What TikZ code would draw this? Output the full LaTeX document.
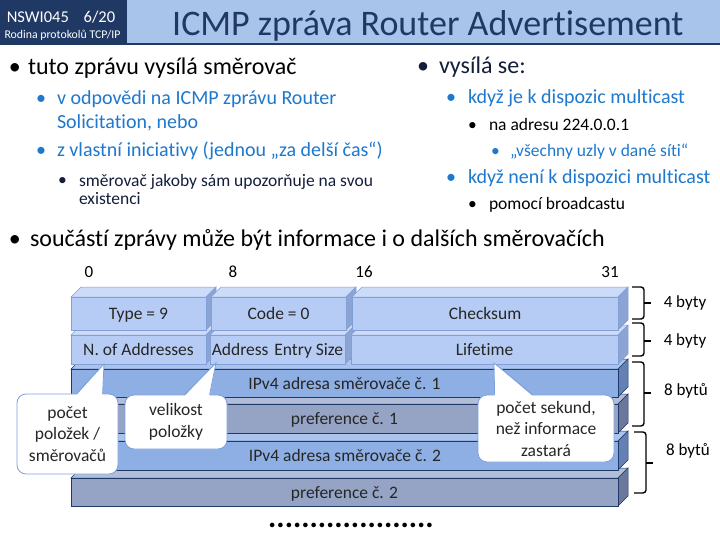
\documentclass[tikz,border=0pt]{standalone}
\usepackage{fontspec}
\setmainfont{Carlito}[Ligatures=NoCommon]
\usetikzlibrary{calc}
\definecolor{navy}{RGB}{31,56,100}
\definecolor{hdr}{RGB}{169,196,235}
\definecolor{txtblue}{RGB}{30,120,205}
\definecolor{txtdark}{RGB}{20,30,60}
\definecolor{lfront}{RGB}{183,204,244}
\definecolor{ltop}{RGB}{204,219,248}
\definecolor{lside}{RGB}{140,164,212}
\definecolor{lborder}{RGB}{130,160,215}
\definecolor{ifront}{RGB}{142,175,228}
\definecolor{itop}{RGB}{170,196,238}
\definecolor{iside}{RGB}{100,128,180}
\definecolor{iborder}{RGB}{31,58,104}
\definecolor{pfront}{RGB}{149,163,196}
\definecolor{ptop}{RGB}{178,190,216}
\definecolor{pside}{RGB}{108,120,155}
\definecolor{pborder}{RGB}{31,58,104}
\definecolor{callb}{RGB}{125,160,220}
\tikzset{
  txt/.style={inner sep=0pt, outer sep=0pt, anchor=base west},
  lvla/.style={txt, font=\fontsize{24}{28}\selectfont, text=black},
  lvlb/.style={txt, font=\fontsize{20}{24}\selectfont, text=txtblue, align=left},
  lvlc/.style={txt, font=\fontsize{17.5}{18.5}\selectfont, text=black, align=left},
  fieldtxt/.style={font=\fontsize{17.5}{18}\selectfont, text=black!85, text height=12.4pt, text depth=0.4pt},
  bitnum/.style={inner sep=0pt, font=\fontsize{17}{18}\selectfont, text=black},
  callout/.style={draw=callb, fill=white, rounded corners=9pt, line width=0.8pt, align=center, inner sep=0pt,
     font=\fontsize{17.5}{21.5}\selectfont, text=black!85},
  bracepath/.style={line width=1.4pt, rounded corners=3pt},
  bracetxt/.style={inner sep=0pt, font=\fontsize{17}{18}\selectfont, text=black},
}
\newcommand\fieldbox[7]{%
  \fill[#6top, draw=#6border, line width=0.5pt] (#2,#3) -- (#2+10,#3-10) -- (#4+10,#3-10) -- (#4,#3) -- cycle;
  \fill[#6side, draw=#6border, line width=0.5pt] (#4,#3) -- (#4+10,#3-10) -- (#4+10,#5-10) -- (#4,#5) -- cycle;
  \node[draw=#6border, fill=#6front, line width=0.8pt, inner sep=0pt, outer sep=0pt,
        minimum width={(#4-#2)*1pt}, minimum height={(#5-#3)*1pt}, fieldtxt]
        (#1) at ({(#2+#4)/2},{(#3+#5)/2}) {#7};%
}
\begin{document}
\begin{tikzpicture}[x=1pt,y=-1pt]
\useasboundingbox (0,0) rectangle (720,540);
\fill[white] (0,0) rectangle (720,540);
% header
\fill[hdr] (0,0) rectangle (720,45);
\fill[navy] (0,0) rectangle (127,45);
\draw[navy, line width=1.6pt] (0,44) -- (720,44);
\node[inner sep=0pt, text=white, font=\fontsize{16.5}{18}\selectfont] (course) at (61,17) {NSWI045\hspace{0.9em}6/20};
\node[inner sep=0pt, text=white, font=\fontsize{11.8}{13}\selectfont] (topic) at (62.5,35) {Rodina protokolů TCP/IP};
\node[inner sep=0pt, text=navy, font=\fontsize{36}{40}\selectfont, anchor=base west] (title) at (172,36) {ICMP zpráva Router Advertisement};

% left bullets
\node[lvla] (b1) at (9,75) {•};
\node[lvla] (t1) at (28,75) {tuto zprávu vysílá směrovač};
\node[lvlb] (b2) at (36,105) {•};
\node[lvlb] (t2) at (57,129) {v odpovědi na ICMP zprávu Router\\Solicitation, nebo};
\node[lvlb] (b3) at (36,157) {•};
\node[lvlb] (t3) at (57,157) {z vlastní iniciativy (jednou „za delší čas“)};
\node[lvlc, text=txtdark] (b4) at (58,186) {•};
\node[lvlc, text=txtdark] (t4) at (79,205) {směrovač jakoby sám upozorňuje na svou\\existenci};

% right bullets
\node[lvla, text=txtdark] (r1b) at (417,74) {•};
\node[lvla, text=txtdark] (r1) at (439,74) {vysílá se:};
\node[lvlb] (r2b) at (446,104) {•};
\node[lvlb] (r2) at (468,104) {když je k dispozic multicast};
\node[lvlc] (r3b) at (468,131) {•};
\node[lvlc] (r3) at (489,131) {na adresu 224.0.0.1};
\node[lvlc, text=txtblue] (r4b) at (491,157) {•};
\node[lvlc, text=txtblue] (r4) at (510,157) {„všechny uzly v dané síti“};
\node[lvlb] (r5b) at (446,184) {•};
\node[lvlb] (r5) at (468,184) {když není k dispozici multicast};
\node[lvlc] (r6b) at (468,210) {•};
\node[lvlc] (r6) at (489,210) {pomocí broadcastu};

% wide bullet
\node[lvla] (w1b) at (9,246) {•};
\node[lvla] (w1) at (30,246) {součástí zprávy může být informace i o dalších směrovačích};

% bit numbers
\node[bitnum] (n0) at (89,272) {0};
\node[bitnum] (n8) at (233,272) {8};
\node[bitnum] (n16) at (364,272) {16};
\node[bitnum] (n31) at (610,272) {31};

% fields, back to front
\fieldbox{pref2}{71}{478}{618}{506}{p}{preference č. 2}
\fieldbox{ip2}{72}{441}{618}{470}{i}{IPv4 adresa směrovače č. 2}
\fieldbox{pref1}{71}{404}{618}{433}{p}{preference č. 1}
\fieldbox{ip1}{71}{369}{618}{397}{i}{IPv4 adresa směrovače č. 1}
\fieldbox{naddr}{71}{335}{206}{364}{l}{N. of Addresses}
\fieldbox{esize}{210}{335}{345}{364}{l}{Address\,\,Entry Size}
\fieldbox{life}{351}{335}{618}{364}{l}{Lifetime}
\fieldbox{type}{71}{297}{206}{330}{l}{Type = 9}
\fieldbox{code}{211}{297}{346}{330}{l}{Code = 0}
\fieldbox{csum}{352}{297}{618}{330}{l}{Checksum}

% callouts
\node[callout, minimum width=101pt, minimum height=80pt] (c1) at (67.5,434) {počet\\položek /\\směrovačů};
\node[callout, minimum width=102pt, minimum height=54pt] (c2) at (176,422) {velikost\\položky};
\node[callout, minimum width=136pt, minimum height=67pt] (c3) at (546,428.5) {počet sekund,\\než informace\\zastará};
\coordinate (p1) at (104,364);
\coordinate (p2) at (216,363);
\coordinate (p3) at (494,363);
\fill[white] ($(c1.north west)+(60,1.5)$) -- (p1) -- ($(c1.north west)+(86,1.5)$) -- cycle;
\draw[callb, line width=0.8pt] ($(c1.north west)+(60,0)$) -- (p1) -- ($(c1.north west)+(86,0)$);
\fill[white] ($(c2.north west)+(60,1.5)$) -- (p2) -- ($(c2.north west)+(85,1.5)$) -- cycle;
\draw[callb, line width=0.8pt] ($(c2.north west)+(60,0)$) -- (p2) -- ($(c2.north west)+(85,0)$);
\fill[white] ($(c3.north west)+(17,1.5)$) -- (p3) -- ($(c3.north west)+(55,1.5)$) -- cycle;
\draw[callb, line width=0.8pt] ($(c3.north west)+(17,0)$) -- (p3) -- ($(c3.north west)+(55,0)$);

% braces
\draw[bracepath] (632,287) -| (644,303) |- (632,319);
\draw[line width=1.4pt] (644,303) -- (651,303);
\node[bracetxt] (s1) at (685,303) {4 byty};
\draw[bracepath] (632,323) -| (644,341) |- (632,356);
\draw[line width=1.4pt] (644,341) -- (651,341);
\node[bracetxt] (s2) at (685,341) {4 byty};
\draw[bracepath] (632,362) -| (644,393) |- (632,426);
\draw[line width=1.4pt] (644,393) -- (651,393);
\node[bracetxt] (s3) at (686,391) {8 bytů};
\draw[bracepath] (634,432) -| (646,463) |- (634,493);
\draw[line width=1.4pt] (646,463) -- (653,463);
\node[bracetxt] (s4) at (688,451) {8 bytů};

% dots
\node[inner sep=0pt, anchor=base, text height=5pt, text depth=0pt, font=\fontsize{31}{31}\selectfont\bfseries] (dots) at (351,527.5) {....................};
\end{tikzpicture}
\end{document}
